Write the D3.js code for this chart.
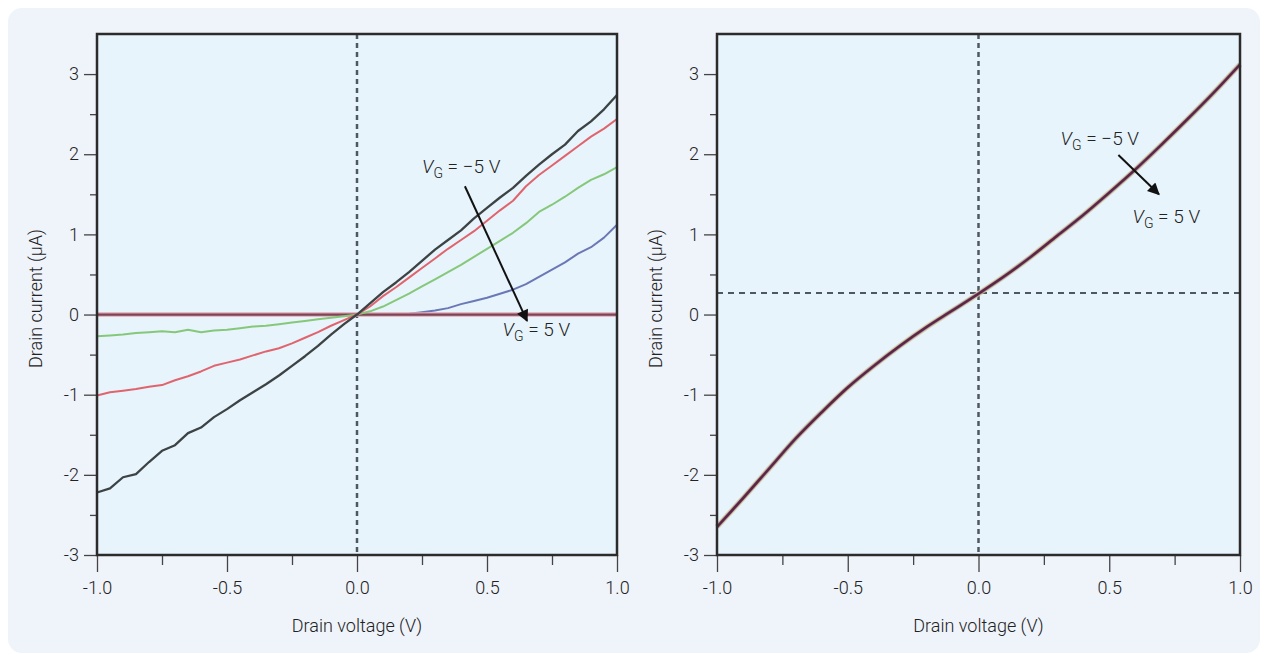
<!DOCTYPE html>
<html>
<head>
<meta charset="utf-8">
<script src="https://cdn.jsdelivr.net/npm/d3@7"></script>
<style>
  body { margin: 0; background: #fff; }
  svg text { font-family: Roboto, "Liberation Sans", sans-serif; font-weight: 300; fill: #222; }
</style>
</head>
<body>
<div id="app"></div>
<script>
// drain voltage samples (V)
const vd = d3.range(41).map(i => -1 + i * 0.05);
const vdR = d3.range(21).map(i => -1 + i * 0.1);

// left panel, drain current (µA) per gate voltage
const idM5 = [-2.22, -2.17, -2.03, -1.99, -1.84, -1.70, -1.63, -1.48, -1.41, -1.28,
  -1.18, -1.07, -0.97, -0.87, -0.76, -0.64, -0.52, -0.39, -0.25, -0.12,
  0, 0.14, 0.28, 0.40, 0.53, 0.67, 0.81, 0.93, 1.05, 1.20,
  1.33, 1.46, 1.58, 1.73, 1.87, 2.00, 2.12, 2.29, 2.41, 2.56, 2.74];
const idM25 = [-1.01, -0.97, -0.95, -0.93, -0.90, -0.88, -0.82, -0.77, -0.71, -0.64,
  -0.60, -0.56, -0.51, -0.46, -0.42, -0.36, -0.29, -0.22, -0.14, -0.07,
  0, 0.10, 0.23, 0.34, 0.46, 0.58, 0.70, 0.82, 0.93, 1.04,
  1.17, 1.30, 1.42, 1.60, 1.74, 1.86, 1.98, 2.10, 2.22, 2.32, 2.44];
const id0 = [-0.27, -0.26, -0.25, -0.23, -0.22, -0.21, -0.22, -0.19, -0.22, -0.20,
  -0.19, -0.17, -0.15, -0.14, -0.12, -0.10, -0.08, -0.06, -0.04, -0.02,
  0, 0.04, 0.10, 0.18, 0.26, 0.35, 0.44, 0.53, 0.62, 0.72,
  0.82, 0.92, 1.02, 1.14, 1.28, 1.37, 1.47, 1.58, 1.68, 1.75, 1.84];
const idP25 = [0, 0, 0, 0, 0, 0, 0, 0, 0, 0,
  0, 0, 0, 0, 0, 0, 0, 0, 0, 0,
  0, 0, 0, 0, 0.01, 0.03, 0.05, 0.08, 0.13, 0.17,
  0.21, 0.26, 0.31, 0.38, 0.47, 0.56, 0.65, 0.76, 0.84, 0.96, 1.12];
const idP5 = [0, 0, 0, 0, 0, 0, 0, 0, 0, 0,
  0, 0, 0, 0, 0, 0, 0, 0, 0, 0,
  0, 0, 0, 0, 0, 0, 0, 0, 0, 0,
  0, 0, 0, 0, 0, 0, 0, 0, 0, 0, 0];

// right panel: all gate voltages fall on one curve
const idRight = [-2.65, -2.29, -1.92, -1.55, -1.22, -0.91, -0.64, -0.39, -0.16, 0.05,
  0.26, 0.48, 0.72, 0.98, 1.24, 1.52, 1.81, 2.12, 2.44, 2.77, 3.12];
const rightOffset = 0.27;

const xTicks = [-1, -0.5, 0, 0.5, 1];
const xMinor = [-0.75, -0.25, 0.25, 0.75];
const yTicks = [-3, -2, -1, 0, 1, 2, 3];
const yMinor = [-2.5, -1.5, -0.5, 0.5, 1.5, 2.5];

const W = 1268, H = 661;
const svg = d3.select("#app").append("svg").attr("width", W).attr("height", H);

svg.append("rect").attr("x", 8).attr("y", 8).attr("width", W - 16).attr("height", H - 16)
  .attr("rx", 14).attr("fill", "#eff3fa");

svg.append("defs").append("marker").attr("id", "head").attr("viewBox", "0 0 10 10")
  .attr("refX", 9).attr("refY", 5).attr("markerWidth", 7).attr("markerHeight", 6)
  .attr("markerUnits", "strokeWidth").attr("orient", "auto")
  .append("path").attr("d", "M0,0 L10,5 L0,10 Z").attr("fill", "#111");

function panel(left, right) {
  const top = 34, bottom = 555;
  const x = d3.scaleLinear().domain([-1, 1]).range([left, right]);
  const y = d3.scaleLinear().domain([-3, 3.5]).range([bottom, top]);
  const g = svg.append("g");

  g.append("rect").attr("x", left).attr("y", top).attr("width", right - left).attr("height", bottom - top)
    .attr("fill", "#e7f4fb");

  // axes
  g.append("g").attr("transform", `translate(0,${bottom})`)
    .call(d3.axisBottom(x).tickValues(xTicks).tickSize(17).tickPadding(9).tickFormat(d3.format(".1f")));
  g.append("g").attr("transform", `translate(0,${bottom})`)
    .call(d3.axisBottom(x).tickValues(xMinor).tickSize(10).tickFormat(""));
  g.append("g").attr("transform", `translate(${left},0)`)
    .call(d3.axisLeft(y).tickValues(yTicks).tickSize(13).tickPadding(5).tickFormat(d3.format("d")));
  g.append("g").attr("transform", `translate(${left},0)`)
    .call(d3.axisLeft(y).tickValues(yMinor).tickSize(7).tickFormat(""));
  g.selectAll(".domain").remove();
  g.selectAll(".tick line").attr("stroke", "#444").attr("stroke-width", 1.3);
  g.selectAll(".tick text").attr("font-size", 18).attr("fill", "#222")
    .attr("font-family", null)
    .text(function() { return this.textContent.replace("−", "-"); });

  g.append("text").attr("x", (left + right) / 2).attr("y", 632).attr("text-anchor", "middle")
    .attr("font-size", 18).text("Drain voltage (V)");
  g.append("text").attr("transform", `translate(${left - 55},${(top + bottom) / 2 + 4}) rotate(-90)`)
    .attr("text-anchor", "middle").attr("font-size", 18).text("Drain current (µA)");

  // dashed zero line
  g.append("line").attr("x1", x(0)).attr("x2", x(0)).attr("y1", top).attr("y2", bottom)
    .attr("stroke", "#4f5862").attr("stroke-width", 2.5).attr("stroke-dasharray", "5,4");

  return { g, x, y, top, bottom, left, right };
}

function frame(p) {
  p.g.append("rect").attr("x", p.left).attr("y", p.top).attr("width", p.right - p.left)
    .attr("height", p.bottom - p.top).attr("fill", "none").attr("stroke", "#2b2b2b").attr("stroke-width", 2.5);
}

function vgLabel(g, px, py, val) {
  const t = g.append("text").attr("x", px).attr("y", py).attr("font-size", 19);
  t.append("tspan").attr("font-style", "italic").text("V");
  t.append("tspan").attr("font-size", 14).attr("dy", 5).text("G");
  t.append("tspan").attr("dy", -5).text(` = ${val} V`);
}

function arrow(g, x1, y1, x2, y2) {
  g.append("line").attr("x1", x1).attr("y1", y1).attr("x2", x2).attr("y2", y2)
    .attr("stroke", "#111").attr("stroke-width", 2).attr("marker-end", "url(#head)");
}

// left panel
const L = panel(97, 617);
const lineL = d3.line().x((d, i) => L.x(vd[i])).y(d => L.y(d));
const leftSeries = [
  { v: idP25, c: "#6b78b6", w: 2 },
  { v: idP5, c: "#e3a7b6", w: 4.5 },
  { v: idP5, c: "#7a4656", w: 2.2 },
  { v: id0, c: "#86c87a", w: 2 },
  { v: idM25, c: "#e0646e", w: 2 },
  { v: idM5, c: "#3d4344", w: 2.3 }
];
L.g.selectAll("path.curve").data(leftSeries).enter().append("path").attr("class", "curve")
  .attr("d", d => lineL(d.v)).attr("fill", "none").attr("stroke", d => d.c)
  .attr("stroke-width", d => d.w).attr("stroke-linejoin", "round");
frame(L);
vgLabel(L.g, L.x(0.25), L.y(1.76), "−5");
vgLabel(L.g, L.x(0.56), L.y(-0.27), "5");
arrow(L.g, L.x(0.415), L.y(1.6), L.x(0.654), L.y(-0.08));

// right panel
const R = panel(717, 1240);
R.g.append("line").attr("x1", R.left).attr("x2", R.right).attr("y1", R.y(rightOffset)).attr("y2", R.y(rightOffset))
  .attr("stroke", "#4f5862").attr("stroke-width", 2).attr("stroke-dasharray", "6,5");
const lineR = d3.line().x((d, i) => R.x(vdR[i])).y(d => R.y(d)).curve(d3.curveCatmullRom);
const rightSeries = [
  { c: "#c9d26a", w: 5.5 },
  { c: "#e8a3b8", w: 4.5 },
  { c: "#5a6aa8", w: 3.4 },
  { c: "#5e2540", w: 2.4 }
];
R.g.selectAll("path.curve").data(rightSeries).enter().append("path").attr("class", "curve")
  .attr("d", d => lineR(idRight)).attr("fill", "none").attr("stroke", d => d.c)
  .attr("stroke-width", d => d.w).attr("stroke-opacity", (d, i) => i === 3 ? 1 : 0.6);
frame(R);
vgLabel(R.g, R.x(0.314), R.y(2.12), "−5");
vgLabel(R.g, R.x(0.589), R.y(1.14), "5");
arrow(R.g, R.x(0.535), R.y(1.99), R.x(0.69), R.y(1.5));
</script>
</body>
</html>
